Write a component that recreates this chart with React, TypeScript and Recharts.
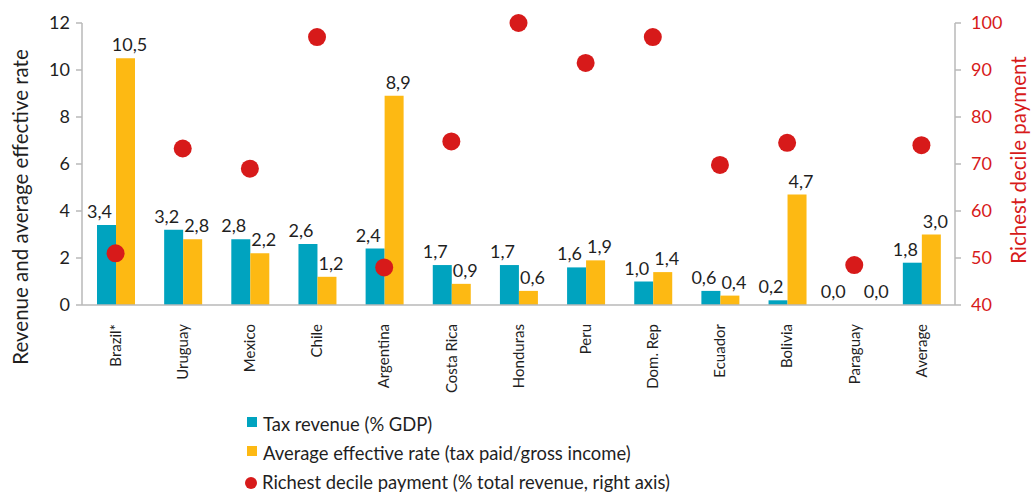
import { ComposedChart, Bar, Scatter, XAxis, YAxis, LabelList, Label } from 'recharts';

const countries = ['Brazil*', 'Uruguay', 'Mexico', 'Chile', 'Argentina', 'Costa Rica', 'Honduras', 'Peru', 'Dom. Rep', 'Ecuador', 'Bolivia', 'Paraguay', 'Average'];
const taxRevenue = [3.4, 3.2, 2.8, 2.6, 2.4, 1.7, 1.7, 1.6, 1.0, 0.6, 0.2, 0.0, 1.8];
const effectiveRate = [10.5, 2.8, 2.2, 1.2, 8.9, 0.9, 0.6, 1.9, 1.4, 0.4, 4.7, 0.0, 3.0];
const richestDecile = [51, 73.3, 69, 97, 48, 74.8, 100, 91.5, 97, 69.8, 74.5, 48.5, 74];
const leftTicks = [0, 2, 4, 6, 8, 10, 12];
const rightTicks = [40, 50, 60, 70, 80, 90, 100];
const boundaryTicks = countries.map((_, i) => i).concat(countries.length);

const TEAL = '#00A3BF';
const YELLOW = '#FDB913';
const RED = '#D71A1A';
const AXIS = '#b8b8b8';
const INK = '#1f1f1f';
const FONT = 'Lato, "Open Sans", sans-serif';

const data = countries.map((name, i) => ({
  name,
  tax: taxRevenue[i],
  rate: effectiveRate[i],
  richest: richestDecile[i],
}));

const fmt = (v: number) => v.toFixed(1).replace('.', ',');

// value labels sit above the bars, teal nudged left and yellow nudged right
const barLabel = (dx: number, zeroDx: number) => (p: any) => {
  const v = Number(p.value);
  const shift = v === 0 ? zeroDx : dx;
  return (
    <text x={p.x + p.width / 2 + shift} y={p.y - 7} textAnchor="middle" fontSize={18} fill={INK} fontFamily={FONT}>
      {fmt(v)}
    </text>
  );
};

const CountryTick = (p: any) => (
  <g transform={`translate(${p.x},${p.y})`}>
    <text transform="rotate(-90)" textAnchor="end" dy="0.35em" fontSize={15} fill={INK} fontFamily={FONT}>
      {p.payload.value}
    </text>
  </g>
);

const Dot = (p: any) => <circle cx={p.cx} cy={p.cy} r={9} fill={RED} />;

export default function App() {
  return (
    <div style={{ position: 'absolute', left: 0, top: 0, width: 1036, height: 495, background: '#fff', fontFamily: FONT }}>
      <ComposedChart width={1036} height={400} data={data} margin={{ top: 23, right: 0, bottom: 0, left: 0 }} barGap={0}>
        {/* numeric axis only used for the tick marks between categories; id 0 keeps it next to the plot */}
        <XAxis
          xAxisId={0}
          type="number"
          domain={[0, countries.length]}
          ticks={boundaryTicks}
          height={1}
          tick={false}
          tickSize={7}
          stroke={AXIS}
          strokeWidth={1.5}
        />
        <XAxis
          xAxisId="cat"
          dataKey="name"
          interval={0}
          height={94}
          axisLine={false}
          tickLine={false}
          tickMargin={0}
          tickSize={18}
          tick={<CountryTick />}
        />
        <YAxis
          yAxisId="left"
          domain={[0, 12]}
          ticks={leftTicks}
          width={82}
          tickSize={6}
          tickMargin={6}
          stroke={AXIS}
          strokeWidth={1.5}
          tick={{ fill: INK, fontSize: 18, fontFamily: FONT }}
        >
          <Label
            content={() => (
              <text x={23} y={207} transform="rotate(-90 23 207)" textAnchor="middle" dominantBaseline="middle" fontSize={20.5} fill={INK} fontFamily={FONT}>
                Revenue and average effective rate
              </text>
            )}
          />
        </YAxis>
        <YAxis
          yAxisId="right"
          orientation="right"
          domain={[40, 100]}
          ticks={rightTicks}
          width={81}
          tickSize={6}
          tickMargin={10}
          stroke={AXIS}
          strokeWidth={1.5}
          tick={{ fill: RED, fontSize: 18, fontFamily: FONT }}
        >
          <Label
            content={() => (
              <text x={1021} y={160} transform="rotate(-90 1021 160)" textAnchor="middle" dominantBaseline="middle" fontSize={20.5} fill={RED} fontFamily={FONT}>
                Richest decile payment
              </text>
            )}
          />
        </YAxis>
        <Bar xAxisId="cat" yAxisId="left" dataKey="tax" fill={TEAL} barSize={19} minPointSize={0.01} isAnimationActive={false}>
          <LabelList dataKey="tax" content={barLabel(-7, -12)} />
        </Bar>
        <Bar xAxisId="cat" yAxisId="left" dataKey="rate" fill={YELLOW} barSize={19} minPointSize={0.01} isAnimationActive={false}>
          <LabelList dataKey="rate" content={barLabel(4, 12)} />
        </Bar>
        <Scatter xAxisId="cat" yAxisId="right" dataKey="richest" fill={RED} shape={<Dot />} isAnimationActive={false} />
      </ComposedChart>

      {/* legend */}
      <div style={{ position: 'absolute', left: 247, top: 410, fontSize: 18.4, color: INK, lineHeight: '29px' }}>
        <div style={{ display: 'flex', alignItems: 'center' }}>
          <span style={{ width: 10, height: 10, background: TEAL, marginRight: 6, marginTop: -5 }} />
          Tax revenue (% GDP)
        </div>
        <div style={{ display: 'flex', alignItems: 'center' }}>
          <span style={{ width: 10, height: 10, background: YELLOW, marginRight: 6, marginTop: -5 }} />
          Average effective rate (tax paid/gross income)
        </div>
        <div style={{ display: 'flex', alignItems: 'center' }}>
          <span style={{ width: 12, height: 12, borderRadius: 6, background: RED, marginRight: 5, marginLeft: -2 }} />
          Richest decile payment (% total revenue, right axis)
        </div>
      </div>
    </div>
  );
}
